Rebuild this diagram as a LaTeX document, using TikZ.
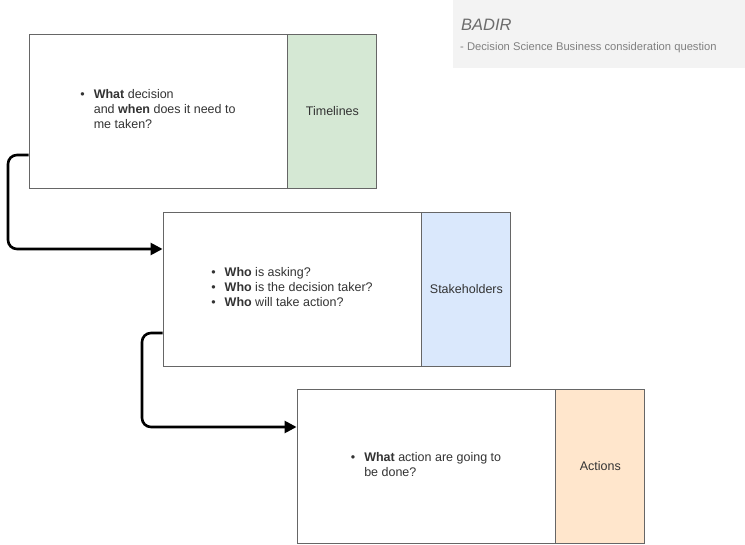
\documentclass[tikz,border=0pt]{standalone}
\usepackage{fontspec}
\setmainfont{Liberation Sans}
\usetikzlibrary{arrows.meta,positioning}
\definecolor{txt}{HTML}{333333}
\definecolor{edge}{HTML}{666666}
\definecolor{greenfill}{HTML}{D5E8D4}
\definecolor{bluefill}{HTML}{DAE8FC}
\definecolor{orangefill}{HTML}{FFE6CC}
\definecolor{notefill}{HTML}{F3F3F3}
\tikzset{
  qbox/.style={draw=edge, line width=0.9pt, fill=white, minimum width=258pt,
    minimum height=154pt, inner sep=0pt, text=txt,
    font=\fontsize{12.5}{15}\selectfont},
  tagbox/.style={draw=edge, line width=0.9pt, minimum width=89pt,
    minimum height=154pt, inner sep=0pt, text=txt,
    font=\fontsize{12.5}{15}\selectfont, anchor=west},
  flow/.style={line width=2.6pt, rounded corners=9pt,
    -{Triangle[length=12pt,width=12pt]}}
}
\newcommand{\bul}{\textbullet}
\begin{document}
\begin{tikzpicture}[x=1pt,y=-1pt]
  \useasboundingbox (0,0) rectangle (745,545);

  % note panel
  \fill[notefill] (453,0) rectangle (745,68);
  \node[anchor=base west, text=gray!85!black, font=\fontsize{16.5}{18}\selectfont\itshape, inner sep=0pt] (title) at (461,31) {BADIR};
  \node[anchor=base west, text=gray, font=\fontsize{11.2}{12}\selectfont, inner sep=0pt] (subtitle) at (460,51) {- Decision Science Business consideration question};

  % step 1
  \node[qbox] (q1) at (158,111) {%
    \raisebox{-2pt}{\begin{tabular}{@{}l@{\hspace{9pt}}l@{}}
      \bul & \textbf{What} decision\\
           & and \textbf{when} does it need to\\
           & me taken?
    \end{tabular}}};
  \node[tagbox, fill=greenfill] (t1) at (q1.east) {Timelines};

  % step 2
  \node[qbox] (q2) at (292,289) {%
    \begin{tabular}{@{}l@{\hspace{9pt}}l@{}}
      \bul & \textbf{Who} is asking?\\
      \bul & \textbf{Who} is the decision taker?\\
      \bul & \textbf{Who} will take action?
    \end{tabular}};
  \node[tagbox, fill=bluefill] (t2) at (q2.east) {Stakeholders};

  % step 3
  \node[qbox] (q3) at (426,466) {%
    \begin{tabular}{@{}l@{\hspace{9pt}}l@{}}
      \bul & \textbf{What} action are going to\\
           & be done?
    \end{tabular}};
  \node[tagbox, fill=orangefill] (t3) at (q3.east) {Actions};

  % connectors
  \draw[flow] (q1.west |- 0,155) -- (8,155) -- (8,249) -- (q2.west |- 0,249);
  \draw[flow] (q2.west |- 0,333) -- (142,333) -- (142,427) -- (q3.west |- 0,427);
\end{tikzpicture}
\end{document}
